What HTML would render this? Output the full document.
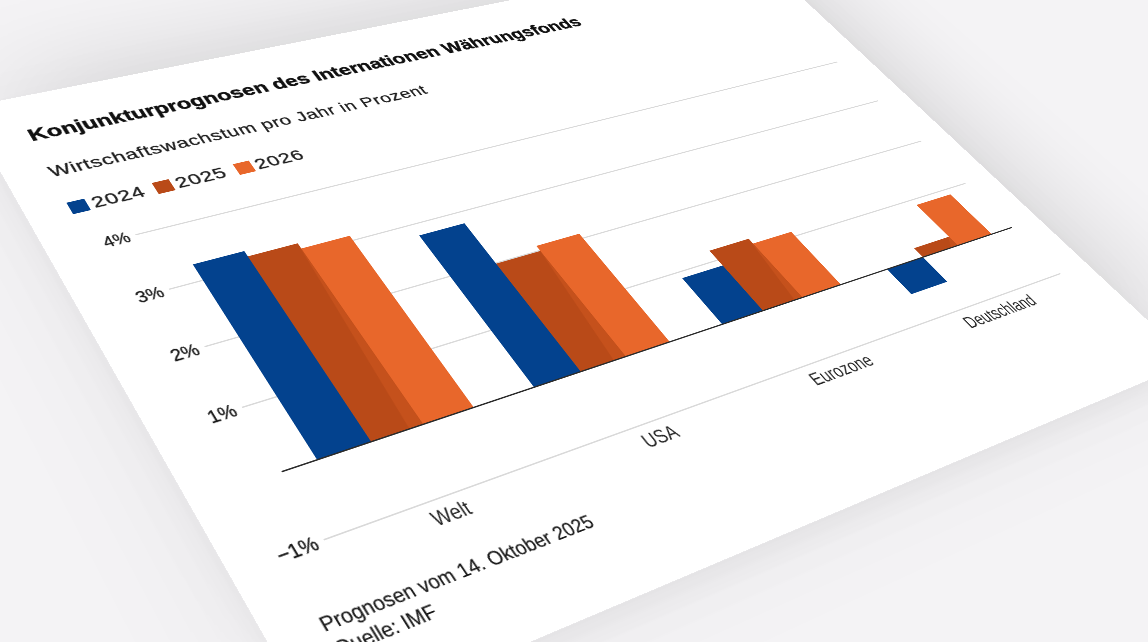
<!DOCTYPE html>
<html lang="de"><head><meta charset="utf-8"><title>Konjunkturprognosen des IWF</title>
<style>
html,body{margin:0;padding:0;background:#f4f3f5}
body{width:1148px;height:642px;overflow:hidden;position:relative;background:#f4f3f5;font-family:"Liberation Sans",sans-serif;color:#1a1a1a}
#card{position:absolute;left:0;top:0;width:640.0px;height:495.5px;background:#fff;transform-origin:0 0;transform:matrix3d(1.5876506,-0.26499034,0,0.00047023377,0.55572136,0.89292703,0,-0.00049836136,0,0,1,0,-35.932928,107.76371,0,1)}
#sh{position:absolute;left:0;top:0;width:640.0px;height:495.5px;transform-origin:0 0;transform:matrix3d(1.5876506,-0.26499034,0,0.00047023377,0.55572136,0.89292703,0,-0.00049836136,0,0,1,0,-35.932928,107.76371,0,1);box-shadow:34px -30px 80px 0 rgba(0,0,0,.085),-8px 4px 70px rgba(0,0,0,.045),0 7px 20px rgba(0,0,0,.04)}
#card div{position:absolute}
.t{left:27.3px;top:30.3px;font-weight:bold;font-size:15.4px;line-height:18px;white-space:nowrap;color:#111;-webkit-text-stroke:.38px #111}
.s{left:26.6px;top:67.6px;font-size:13.7px;line-height:16px;white-space:nowrap;letter-spacing:.4px;color:#1e1e1e;-webkit-text-stroke:.24px #1e1e1e}
.lg{top:105px;height:12px;font-size:14px;line-height:14px;white-space:nowrap;color:#222}
.lg i{position:absolute;left:-.4px;top:0;width:11px;height:11px}
.lg span{position:absolute;left:13.2px;top:-1.6px;letter-spacing:.45px;-webkit-text-stroke:.25px #222}
.g{left:53.4px;width:560.0px;height:1px;background:#d9d9d9}
.z{left:53.4px;width:560.0px;height:1.15px;background:#2b2b2b}
.sv{background:#c5511c;clip-path:polygon(100% 0,100% 100%,0 100%)}
.yl{left:0;width:49.0px;text-align:right;font-size:13px;line-height:18px;transform:scaleX(.84);transform-origin:100% 50%;white-space:nowrap;color:#1a1a1a;-webkit-text-stroke:.22px #1a1a1a}
.xl{width:120px;text-align:center;font-size:14px;line-height:16px;transform:scaleX(.81);white-space:nowrap;color:#262626}
.f{left:28px;font-size:12.6px;line-height:15px;white-space:nowrap;color:#1a1a1a;transform:scaleX(.865);transform-origin:0 50%;-webkit-text-stroke:.12px #1a1a1a}
</style></head><body>
<div id="sh"></div>
<div id="card">
<div class="t">Konjunkturprognosen des Internationen Währungsfonds</div>
<div class="s">Wirtschaftswachstum pro Jahr in Prozent</div>
<div class="lg" style="left:26.8px"><i style="background:#03428e"></i><span>2024</span></div>
<div class="lg" style="left:80.6px"><i style="background:#b94a18"></i><span>2025</span></div>
<div class="lg" style="left:134.2px"><i style="background:#e8672b"></i><span>2026</span></div>
<div class="g" style="top:145.00px"></div>
<div class="g" style="top:195.00px"></div>
<div class="g" style="top:245.00px"></div>
<div class="g" style="top:295.00px"></div>
<div class="g" style="top:395.00px"></div>
<div class="b" style="left:74.40px;top:180.50px;width:32.97px;height:165.00px;background:#03428e"></div>
<div class="b" style="left:107.07px;top:185.50px;width:32.97px;height:160.00px;background:#b94a18"></div>
<div class="b" style="left:139.73px;top:190.50px;width:32.97px;height:155.00px;background:#e8672b"></div>
<div class="b" style="left:214.40px;top:205.50px;width:32.97px;height:140.00px;background:#03428e"></div>
<div class="b" style="left:247.07px;top:245.50px;width:32.97px;height:100.00px;background:#b94a18"></div>
<div class="b" style="left:279.73px;top:240.50px;width:32.97px;height:105.00px;background:#e8672b"></div>
<div class="b" style="left:354.40px;top:300.50px;width:32.97px;height:45.00px;background:#03428e"></div>
<div class="b" style="left:387.07px;top:285.50px;width:32.97px;height:60.00px;background:#b94a18"></div>
<div class="b" style="left:419.73px;top:290.50px;width:32.97px;height:55.00px;background:#e8672b"></div>
<div class="b" style="left:494.40px;top:345.50px;width:32.97px;height:25.00px;background:#03428e"></div>
<div class="b" style="left:527.07px;top:335.50px;width:32.97px;height:10.00px;background:#b94a18"></div>
<div class="b" style="left:559.73px;top:300.50px;width:32.97px;height:45.00px;background:#e8672b"></div>
<div class="sv" style="left:131.13px;top:185.50px;width:8.80px;height:160.00px"></div>
<div class="sv" style="left:271.13px;top:245.50px;width:8.80px;height:100.00px"></div>
<div class="sv" style="left:413.33px;top:285.50px;width:6.60px;height:60.00px"></div>
<div class="sv" style="left:553.33px;top:335.50px;width:6.60px;height:10.00px"></div>
<div class="z" style="top:344.60px"></div>
<div class="yl" style="top:136.90px">4%</div>
<div class="yl" style="top:186.90px">3%</div>
<div class="yl" style="top:236.90px">2%</div>
<div class="yl" style="top:286.90px">1%</div>
<div class="yl" style="top:386.90px">−1%</div>
<div class="xl" style="left:63.40px;top:399.00px">Welt</div>
<div class="xl" style="left:203.40px;top:399.00px">USA</div>
<div class="xl" style="left:343.40px;top:399.00px">Eurozone</div>
<div class="xl" style="left:483.40px;top:399.00px">Deutschland</div>
<div class="f" style="top:436.0px">Prognosen vom 14. Oktober 2025</div>
<div class="f" style="top:452.0px">Quelle: IMF</div>
</div>
</body></html>
